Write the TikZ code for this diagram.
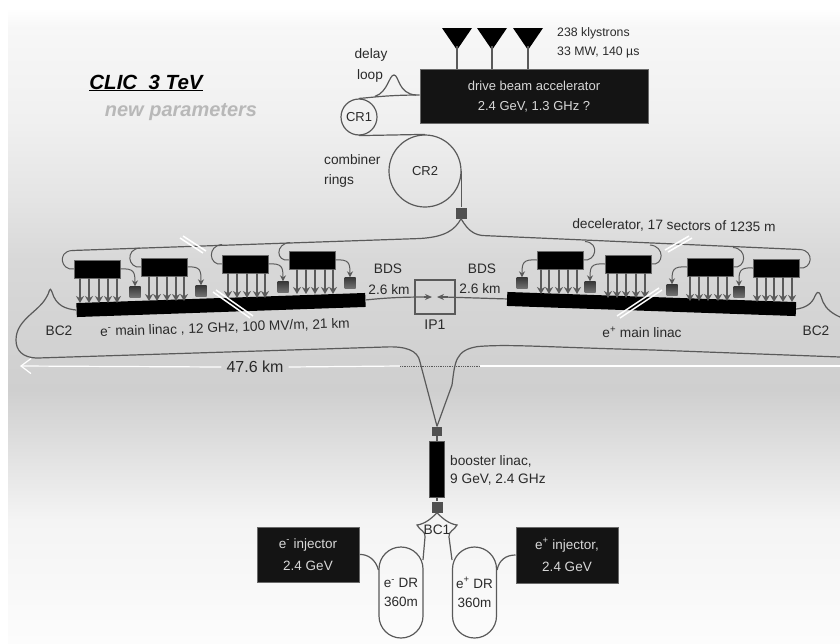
\documentclass[tikz,border=0pt]{standalone}
\usepackage{fontspec}
\setmainfont{Liberation Sans}
\usetikzlibrary{arrows.meta,calc}
\definecolor{txt}{HTML}{2A2A2A}
\definecolor{ln}{HTML}{5A5A5A}
\definecolor{sq}{HTML}{505050}
\definecolor{boxline}{HTML}{6A6A6A}
\definecolor{boxtxt}{HTML}{D8D8D8}
\definecolor{bga}{HTML}{F7F7F7}
\definecolor{bgb}{HTML}{F0F0F0}
\definecolor{bgc}{HTML}{E4E4E4}
\definecolor{bgd}{HTML}{D8D8D8}
\definecolor{bge}{HTML}{CFCFCF}
\definecolor{bgf}{HTML}{F4F4F4}
\definecolor{bgg}{HTML}{FCFCFC}
\newcommand{\fsz}[1]{\fontsize{#1}{#1}\selectfont}
\tikzset{
  beam/.style={draw=ln,line width=1.2pt},
  klbox/.style={fill=black,draw=boxline,line width=.5pt,inner sep=0pt,minimum width=46pt,minimum height=18pt},
  linac/.style={fill=black,inner sep=0pt,minimum width=289pt,minimum height=14pt},
  wbox/.style={fill=black!92,draw=boxline,line width=1pt,inner sep=0pt,text=boxtxt,align=center,font=\fsz{13},text depth=0pt},
  sqr/.style={fill=sq,inner sep=0pt,minimum size=11pt},
  msq/.style={top color=black!78,bottom color=black!55,inner sep=0pt,minimum size=11pt},
  ring/.style={circle,draw=ln,line width=1.2pt,inner sep=0pt},
  race/.style={draw=ln,line width=1.2pt,rounded corners=22pt,inner sep=0pt,minimum width=44pt,minimum height=91pt,align=center,text=txt,font=\fsz{13.5}},
  lab/.style={text=txt,font=\fsz{13.7},inner sep=0pt,align=left},
  karrow/.style={draw=ln,line width=1.5pt,-{Stealth[length=7pt,width=8pt]}},
  sarrow/.style={draw=ln,line width=1pt,-{Stealth[length=6pt,width=6pt]}},
  slash/.style={draw=white,line width=1.5pt},
  klys/.style={fill=black,draw=none,inner sep=0pt}
}
\begin{document}
\begin{tikzpicture}[x=1pt,y=-1pt]
\useasboundingbox (0,0) rectangle (840,643);
% background
\fill[white] (0,0) rectangle (840,643);
\shade[top color=white,bottom color=bga] (8,8) rectangle (840,28);
\shade[top color=bga,bottom color=bgb] (8,27.5) rectangle (840,120.5);
\shade[top color=bgb,bottom color=bgc] (8,120) rectangle (840,200.5);
\shade[top color=bgc,bottom color=bgd] (8,200) rectangle (840,260.5);
\shade[top color=bgd,bottom color=bge] (8,260) rectangle (840,390.5);
\shade[top color=bge,bottom color=bgf] (8,390) rectangle (840,520.5);
\shade[top color=bgf,bottom color=bgg] (8,520) rectangle (840,643);
% title
\node[inner sep=0pt,text=black,font=\fsz{20.5}\bfseries\itshape] (title) at (146,83) {\underline{CLIC~~3 TeV}};
\node[inner sep=0pt,text=white!72!black,font=\fsz{20}\bfseries\itshape] (newp) at (181,112) {new parameters};
% drive beam
\node[wbox,minimum width=228pt,minimum height=54pt] (dba) at (534,96) {drive beam accelerator\\[7pt]2.4 GeV, 1.3 GHz ?};
\foreach \n/\x in {1/457,2/492,3/528}{
  \coordinate (kt\n) at (\x,28);
  \fill[klys] ($(kt\n)+(-15,0)$) -- ($(kt\n)+(15,0)$) -- ($(kt\n)+(0,22)$) -- cycle;
  \draw[ln,line width=1.3pt] (kt\n) ++(0,18) -- (kt\n |- dba.north);
}
\node[lab,anchor=west,font=\fsz{12.3}] (kl1) at (557,33) {238 klystrons};
\node[lab,anchor=west,font=\fsz{12.3}] (kl2) at (557,52) {33 MW, 140 µs};
\node[lab] (dl) at (371,55) {delay};
\node[lab] (dl2) at (370,76) {loop};
\node[lab,anchor=west] (cb) at (324,160) {combiner};
\node[lab,anchor=west] (cb2) at (324,181) {rings};
\node[ring,minimum size=36pt,font=\fsz{13},text=txt] (cr1) at (359,117) {CR1};
\node[ring,minimum size=72pt,font=\fsz{13},text=txt] (cr2) at (425,171) {CR2};
\node[sqr,minimum size=11pt] (sp) at (461,213) {};
\coordinate (dlin) at (dba.west |- 0,95);
\draw[beam] (cr1.north) .. controls (368,98) and (385,95) .. (dlin);
\draw[beam] (cr1.north) ++(16,-2) .. controls (388,92) and (389,75) .. (394,75) .. controls (399,75) and (398,94) .. (416,95);
\draw[beam] (cr1.south) -- (cr2.north);
\draw[beam] (cr2.east) -- (sp.north -| cr2.east);
% linacs
\node[linac,rotate=2] (ll) at (221,305) {};
\node[linac,rotate=-2] (lr) at (651.5,304) {};
% IP
\node[draw=ln,line width=1.3pt,inner sep=0pt,minimum width=40pt,minimum height=34pt] (ip) at (435,297) {};
\coordinate (ipc) at (435,297);
\draw[beam] (ll.east) .. controls (385,298) and (400,297) .. (426,297);
\draw[beam] (lr.west) -- (444,297);
\draw[draw=ln,line width=1.2pt,-{Stealth[length=7pt,width=6pt]}] (424,297) -- ($(ipc)+(-3,0)$);
\draw[draw=ln,line width=1.2pt,-{Stealth[length=7pt,width=6pt]}] (448,297) -- ($(ipc)+(2,0)$);
% modules left
\foreach \n/\x/\y/\sx/\sy/\lx/\ly/\a/\b/\c/\d/\e in {
  1/97/269/135/292/72/250.5/80/89/99/108/117,
  2/164/267/201/291/140/248/149/157/167/176/184,
  3/245/264/283/287/222/244.5/228/237/247/257/265,
  4/312/260/350/283/290/242.5/297/306/315/325/333}{
  \node[klbox] (a\n) at (\x,\y) {};
  \node[msq] (as\n) at (\sx,\sy) {};
  \coordinate (at\n) at (\lx,\ly);
  \foreach \p in {\a,\b,\c,\d,\e}{\draw[karrow] (\p,\y+9) -- ++(0,25);}
  \draw[sarrow] (a\n.east) .. controls +(14,-1) and ($(as\n.north)+(0,-14)$) .. (as\n.north);
  \draw[beam,line width=1pt] (a\n.west) .. controls +(-13,2) and ($(at\n)+(-15,1)$) .. (at\n);
}
% modules right
\foreach \n/\x/\y/\sx/\sy/\lx/\ly/\a/\b/\c/\d/\e in {
  1/560/260/522/283/585/241.5/541/549/559/568/577,
  2/628/264/590/287/650/245/608/617/626/636/645,
  3/710/267/672/290/733/247.5/690/699/708/718/727,
  4/776/268/739/292/800/249.5/757/766/774/783/792}{
  \node[klbox] (b\n) at (\x,\y) {};
  \node[msq] (bs\n) at (\sx,\sy) {};
  \coordinate (bt\n) at (\lx,\ly);
  \foreach \p in {\a,\b,\c,\d,\e}{\draw[karrow] (\p,\y+9) -- ++(0,25);}
  \draw[sarrow] (b\n.west) .. controls +(-14,-1) and ($(bs\n.north)+(0,-14)$) .. (bs\n.north);
  \draw[beam,line width=1pt] (b\n.east) .. controls +(13,2) and ($(bt\n)+(15,1)$) .. (bt\n);
}
% decelerator lines
\draw[beam] (at1) -- (420,238.5) .. controls (445,237) and (455,230) .. (sp.south);
\draw[beam] (sp.south) .. controls (465,225) and (470,234) .. (482,235.5) -- (bt4);
% white slashes
\foreach \dx/\dy in {0/0,3/-2}{
  \draw[slash] (180+\dx,238+\dy) -- (203+\dx,253+\dy);
  \draw[slash] (213+\dx,292+\dy) -- (250+\dx,318+\dy);
  \draw[slash] (668-\dx,252+\dy) -- (692-\dx,238+\dy);
  \draw[slash] (620-\dx,318+\dy) -- (662-\dx,290+\dy);
}
% booster
\node[sqr,minimum width=10pt,minimum height=9pt] (s1) at (437,431) {};
\node[fill=black,draw=ln,line width=.7pt,inner sep=0pt,minimum width=15pt,minimum height=56pt] (bl) at (437,469) {};
\node[sqr,minimum width=11pt,minimum height=11pt] (s2) at (437,507) {};
\draw[beam,line width=1.5pt] (s1) -- (bl.north);
\draw[beam,line width=1.5pt] (bl.south) -- (s2);
% big arcs + BC2
\draw[beam] (ll.west) .. controls (66,309) and (56,306) .. (52,292) .. controls (49,285) and (50,293) .. (46,298)
  .. controls (38,312) and (16,320) .. (16,340) .. controls (16,350) and (22,358) .. (38,358) -- (385,347)
  .. controls (405,346) and (418,350) .. (420,362) -- (s1.north);
\draw[beam] (s1.north) -- (452,385) .. controls (455,362) and (455,350) .. (478,346.5) .. controls (510,344) and (540,347) .. (653,350) -- (840,357);
\draw[beam] (lr.east) .. controls (805,308) and (812,304) .. (815,296) .. controls (819,288) and (820,294) .. (823,302) .. controls (826,309) and (833,314) .. (840,317);
% dimension line
\node[lab,font=\fsz{16}] (dim) at (255,367) {47.6 km};
\coordinate (dl0) at (20,366);
\coordinate (dl1) at (400,366);
\coordinate (dl2a) at (480,366);
\coordinate (dl3) at (840,366);
\draw[white,line width=1.2pt,-{Straight Barb[length=10pt,width=15pt,line width=1.2pt]}] (dim.west) ++(-5,0) -- (dl0);
\draw[white,line width=1.2pt] (dim.east) ++(5,0) -- (dl1);
\draw[ln,line width=.8pt,densely dotted] (dl1) -- (dl2a);
\draw[white,line width=1.2pt] (dl2a) -- (dl3);
% labels on main section
\node[lab] (bd1) at (388,269) {BDS};
\node[lab] (bd2) at (389,290) {2.6 km};
\node[lab] (bd3) at (482,269) {BDS};
\node[lab] (bd4) at (480,289) {2.6 km};
\node[lab,font=\fsz{14}] (ip1) at (435,325) {IP1};
\node[lab] (bc2a) at (59,331) {BC2};
\node[lab] (bc2b) at (816,331) {BC2};
\node[lab,rotate=2] (ml) at (225,328) {e\textsuperscript{-} main linac , 12 GHz, 100 MV/m, 21 km};
\node[lab,rotate=-1] (dec) at (674,226) {decelerator, 17 sectors of 1235 m};
\node[lab] (mr) at (642,332) {e\textsuperscript{+} main linac};
\node[lab,anchor=west] (bo1) at (450,461) {booster linac,};
\node[lab,anchor=west] (bo2) at (450,480) {9 GeV, 2.4 GHz};
% injector area
\node[race] (drl) at (401,592.5) {e\textsuperscript{-} DR\\[6pt]360m};
\node[race] (drr) at (474.5,592.5) {e\textsuperscript{+} DR\\[6pt]360m};
\node[wbox,font=\fsz{13.5},minimum width=102pt,minimum height=55pt] (il) at (308,554.5) {e\textsuperscript{-} injector\\[9pt]2.4 GeV};
\node[wbox,font=\fsz{13.5},minimum width=102pt,minimum height=56pt] (ir) at (567,555) {e\textsuperscript{+} injector,\\[9pt]2.4 GeV};
\draw[beam] (il.east) .. controls (368,554) and (376,560) .. (drl.west |- 0,570);
\draw[beam] (ir.west) .. controls (506,555) and (499,560) .. (drr.east |- 0,570);
\draw[beam] (s2.south) .. controls (432,518) and (425,524) .. (417,525) .. controls (420,531) and (425,530) .. (425,537) -- (423,560);
\draw[beam] (s2.south) .. controls (442,518) and (449,524) .. (457,525) .. controls (454,531) and (449,530) .. (449,537) -- (452,560);
\node[lab] (bc1) at (437,530) {BC1};
\end{tikzpicture}
\end{document}
